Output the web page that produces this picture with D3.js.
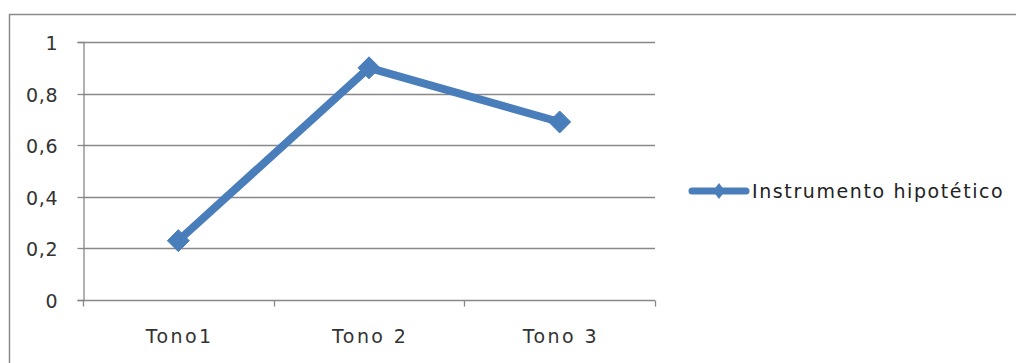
<!DOCTYPE html>
<html>
<head>
<meta charset="utf-8">
<script src="https://cdn.jsdelivr.net/npm/d3@7"></script>
<style>
  html, body { margin: 0; padding: 0; background: #fff; }
  svg { display: block; }
</style>
</head>
<body>
<svg id="chart" width="1016" height="363"></svg>
<script>
const categories = ["Tono1", "Tono 2", "Tono 3"];
const seriesName = "Instrumento hipotético";
const values = [0.23, 0.9, 0.69];
const yTicks = [0, 0.2, 0.4, 0.6, 0.8, 1];

const svg = d3.select("#chart");
const W = 1016, H = 363;
const margin = { left: 83, right: 361, top: 42, bottom: 63 };
const color = "#4a7ebb";
const gridColor = "#888888";
const font = "DejaVu Sans, sans-serif";
const textColor = "#333";

// outer border
svg.append("rect")
  .attr("x", 9.5).attr("y", 14.5)
  .attr("width", W + 20).attr("height", H + 20)
  .attr("fill", "none").attr("stroke", "#8a8a8a").attr("stroke-width", 1.5);

const x = d3.scaleBand().domain(categories).range([margin.left, W - margin.right]);
const y = d3.scaleLinear().domain([0, 1]).range([H - margin.bottom, margin.top]);

// gridlines
svg.append("g").selectAll("line").data(yTicks.filter(d => d > 0)).join("line")
  .attr("x1", margin.left).attr("x2", W - margin.right)
  .attr("y1", d => Math.round(y(d)) + 0.5).attr("y2", d => Math.round(y(d)) + 0.5)
  .attr("stroke", gridColor).attr("stroke-width", 1.3);

// y axis
const yAxis = d3.axisLeft(y).tickValues(yTicks).tickSize(6).tickPadding(19)
  .tickFormat(d => d3.format("")(d).replace(".", ","));
const gy = svg.append("g").attr("transform", `translate(${margin.left + 0.5},0)`).call(yAxis);
gy.select(".domain").attr("stroke", gridColor).attr("stroke-width", 1.3);
gy.selectAll(".tick line").attr("stroke", gridColor).attr("stroke-width", 1.3);
gy.selectAll(".tick").attr("transform", d => `translate(0,${Math.round(y(d)) + 0.5})`);
gy.selectAll(".tick text").attr("font-family", font).attr("font-size", 19)
  .attr("letter-spacing", 0.8).attr("dy", "0.4em").attr("fill", textColor);

// x axis
const y0 = Math.round(y(0)) + 0.5;
svg.append("line").attr("x1", margin.left).attr("x2", W - margin.right)
  .attr("y1", y0).attr("y2", y0).attr("stroke", gridColor).attr("stroke-width", 1.3);
const boundaries = categories.map(c => x(c)).concat([x.range()[1]]);
svg.append("g").selectAll("line").data(boundaries).join("line")
  .attr("x1", d => Math.round(d) + 0.5).attr("x2", d => Math.round(d) + 0.5)
  .attr("y1", y0).attr("y2", y0 + 6)
  .attr("stroke", gridColor).attr("stroke-width", 1.3);
svg.append("g").selectAll("text").data(categories).join("text")
  .attr("x", d => x(d) + x.bandwidth() / 2 + 1.2)
  .attr("y", 343)
  .attr("text-anchor", "middle")
  .attr("font-family", font).attr("font-size", 19).attr("letter-spacing", 2.4)
  .attr("fill", textColor)
  .text(d => d);

// line
const data = categories.map((c, i) => ({ c, v: values[i] }));
const line = d3.line().x(d => x(d.c) + x.bandwidth() / 2).y(d => y(d.v));
svg.append("path").datum(data).attr("d", line)
  .attr("fill", "none").attr("stroke", color).attr("stroke-width", 8)
  .attr("stroke-linejoin", "round");

const diamond = (sx, sy) => `M0,${-sy}L${sx},0L0,${sy}L${-sx},0Z`;
svg.append("g").selectAll("path").data(data).join("path")
  .attr("transform", d => `translate(${x(d.c) + x.bandwidth() / 2},${y(d.v)})`)
  .attr("d", diamond(11, 11))
  .attr("fill", color).attr("stroke", color).attr("stroke-width", 1);

// legend
const lg = svg.append("g").attr("transform", "translate(690,191)");
lg.append("line").attr("x1", 2).attr("x2", 56).attr("y1", 0).attr("y2", 0)
  .attr("stroke", color).attr("stroke-width", 7).attr("stroke-linecap", "round");
lg.append("path").attr("transform", "translate(29,0)").attr("d", diamond(6, 8)).attr("fill", color);
lg.append("text").attr("x", 62).attr("y", 7)
  .attr("font-family", font).attr("font-size", 19).attr("letter-spacing", 1.6).attr("fill", "#222")
  .text(seriesName);
</script>
</body>
</html>
